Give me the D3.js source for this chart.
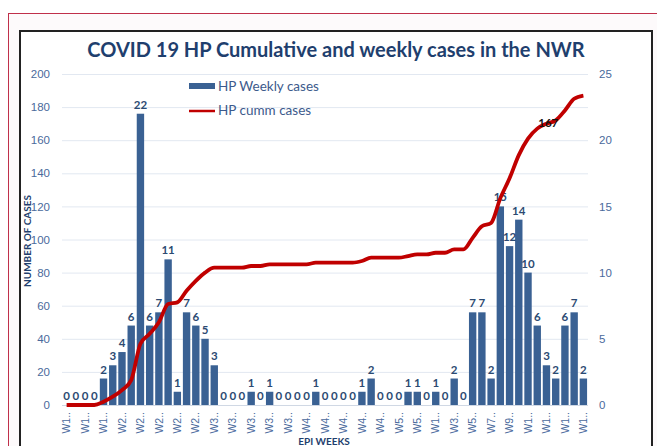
<!DOCTYPE html>
<html>
<head>
<meta charset="utf-8">
<script src="https://cdn.jsdelivr.net/npm/d3@7"></script>
<style>
  body { margin: 0; background: #fff; }
  svg { display: block; font-family: Lato, "Open Sans", sans-serif; }
</style>
</head>
<body>
<div id="chart"></div>
<script>
var weeks = ["W14 2020","W15 2020","W16 2020","W17 2020","W18 2020","W19 2020","W20 2020","W21 2020","W22 2020","W23 2020",
    "W24 2020","W25 2020","W26 2020","W27 2020","W28 2020","W29 2020","W30 2020","W31 2020","W32 2020","W33 2020",
    "W34 2020","W35 2020","W36 2020","W37 2020","W38 2020","W39 2020","W40 2020","W41 2020","W42 2020","W43 2020",
    "W44 2020","W45 2020","W46 2020","W47 2020","W48 2020","W49 2020","W50 2020","W51 2020","W52 2020","W53 2020",
    "W1 2021","W2 2021","W3 2021","W4 2021","W5 2021","W6 2021","W7 2021","W8 2021","W9 2021","W10 2021",
    "W11 2021","W12 2021","W13 2021","W14 2021","W15 2021","W16 2021","W17 2021"];

var weekly = [0,0,0,0,2,3,4,6,22,6,7,11,1,7,6,5,3,0,0,0,
    1,0,1,0,0,0,0,1,0,0,0,0,1,2,0,0,0,1,1,0,
    1,0,2,0,7,7,2,15,12,14,10,6,3,2,6,7,2];

var cumm = [0,0,0,0,2,5,9,15,37,43,50,61,62,69,75,80,83,83,83,83,
    84,84,85,85,85,85,85,86,86,86,86,86,87,89,89,89,89,90,91,91,
    92,92,94,94,101,108,110,125,137,151,161,167,170,172,178,185,187];

var leftTicks = [0,20,40,60,80,100,120,140,160,180,200];
var rightTicks = [0,5,10,15,20,25];
var cummLabelIndex = 51;

var W = 657, H = 446;
var svg = d3.select("#chart").append("svg")
    .attr("width", W)
    .attr("height", H);

// outer page frame + chart box
svg.append("rect").attr("x", 8.5).attr("y", 13.5).attr("width", 700).attr("height", 500)
    .attr("fill", "#fdfafb").attr("stroke", "#c0304a").attr("stroke-width", 1);
svg.append("rect").attr("x", 20).attr("y", 31).attr("width", 632).attr("height", 500)
    .attr("fill", "#fff").attr("stroke", "#222").attr("stroke-width", 2);

var plotL = 62, plotR = 588, plotT = 74, plotB = 405;

var x = d3.scaleBand().domain(weeks).range([plotL, plotR]).paddingInner(0.2).paddingOuter(0.1);
var y1 = d3.scaleLinear().domain([0, 200]).range([plotB, plotT]);
var y2 = d3.scaleLinear().domain([0, 25]).range([plotB, plotT]);

var axisColor = "#4a6a9c", labelColor = "#2c4a72";

// gridlines
svg.append("g").selectAll("line").data(leftTicks).enter().append("line")
    .attr("x1", plotL).attr("x2", plotR)
    .attr("y1", function(d) { return y1(d) + 0.5; })
    .attr("y2", function(d) { return y1(d) + 0.5; })
    .attr("stroke", function(d) { return d === 0 ? "#d0d8e4" : "#e2e8f1"; })
    .attr("stroke-width", 1);

// left axis
var gl = svg.append("g").attr("transform", "translate(" + plotL + ",0)")
    .call(d3.axisLeft(y1).tickValues(leftTicks).tickSize(0).tickPadding(12));
gl.select(".domain").remove();
gl.selectAll("text").attr("fill", axisColor).style("font-size", "11.5px");

// right axis
var gr = svg.append("g").attr("transform", "translate(" + plotR + ",0)")
    .call(d3.axisRight(y2).tickValues(rightTicks).tickSize(0).tickPadding(11));
gr.select(".domain").remove();
gr.selectAll("text").attr("fill", axisColor).style("font-size", "11.5px");

// x axis (every other category labelled)
var gx = svg.append("g").attr("transform", "translate(0," + plotB + ")")
    .call(d3.axisBottom(x)
        .tickValues(weeks.filter(function(d, i) { return i % 2 === 0; }))
        .tickSize(0)
        .tickFormat(function(d) { return d.slice(0, 2) + ".."; }));
gx.select(".domain").remove();
gx.selectAll("text")
    .attr("transform", "rotate(-90)")
    .attr("text-anchor", "end")
    .attr("x", -7)
    .attr("y", 0)
    .attr("dy", "0.35em")
    .attr("fill", axisColor)
    .style("font-size", "10.5px");

// bars (weekly, right axis)
svg.append("g").selectAll("rect").data(weekly).enter().append("rect")
    .attr("x", function(d, i) { return x(weeks[i]); })
    .attr("y", function(d) { return y2(d); })
    .attr("width", x.bandwidth())
    .attr("height", function(d) { return plotB - y2(d); })
    .attr("fill", "#3a6193");

svg.append("g").selectAll("text").data(weekly).enter().append("text")
    .attr("x", function(d, i) { return x(weeks[i]) + x.bandwidth() / 2; })
    .attr("y", function(d) { return y2(d) - 5; })
    .attr("text-anchor", "middle")
    .attr("fill", labelColor)
    .style("font-size", "11.5px")
    .style("font-weight", "bold")
    .text(function(d) { return d; });

// cumulative line (left axis)
var line = d3.line()
    .curve(d3.curveMonotoneX)
    .x(function(d, i) { return x(weeks[i]) + x.bandwidth() / 2; })
    .y(function(d) { return y1(d); });

svg.append("path").datum(cumm)
    .attr("d", line)
    .attr("fill", "none")
    .attr("stroke", "#c00000")
    .attr("stroke-width", 3.8)
    .attr("stroke-linejoin", "round");

svg.append("text")
    .attr("x", x(weeks[cummLabelIndex]) + x.bandwidth() / 2 + 1)
    .attr("y", y1(cumm[cummLabelIndex]) - 2)
    .attr("fill", "#111")
    .style("font-size", "11.5px")
    .style("font-weight", "bold")
    .text(cumm[cummLabelIndex]);

// title
svg.append("text")
    .attr("x", 336).attr("y", 57)
    .attr("text-anchor", "middle")
    .attr("fill", "#1f3f6e")
    .style("font-size", "20px")
    .style("font-weight", "bold")
    .text("COVID 19 HP Cumulative and weekly cases in the NWR");

// legend
var legend = svg.append("g").attr("transform", "translate(189,0)");
legend.append("rect").attr("x", 0).attr("y", 83).attr("width", 26).attr("height", 6).attr("fill", "#3a6193");
legend.append("text").attr("x", 29).attr("y", 91).attr("fill", "#3c5a8c").style("font-size", "13.5px").text("HP Weekly cases");
legend.append("line").attr("x1", 0).attr("x2", 26).attr("y1", 111).attr("y2", 111)
    .attr("stroke", "#c00000").attr("stroke-width", 2.5);
legend.append("text").attr("x", 29).attr("y", 115).attr("fill", "#3c5a8c").style("font-size", "13.5px").text("HP cumm cases");

// axis titles
svg.append("text")
    .attr("transform", "translate(31,241) rotate(-90)")
    .attr("text-anchor", "middle")
    .attr("fill", "#1f3f6e")
    .style("font-size", "10px")
    .style("font-weight", "bold")
    .text("NUMBER OF CASES");

svg.append("text")
    .attr("x", 324).attr("y", 445)
    .attr("text-anchor", "middle")
    .attr("fill", "#1f3f6e")
    .style("font-size", "10px")
    .style("font-weight", "bold")
    .text("EPI WEEKS");
</script>
</body>
</html>
